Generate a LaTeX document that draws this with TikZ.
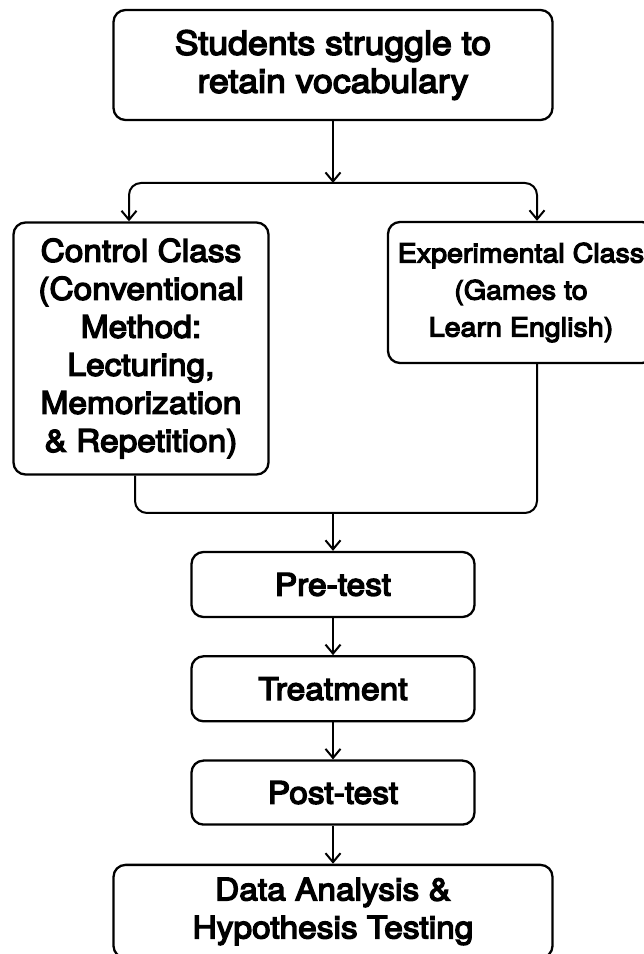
\documentclass[tikz,border=0pt]{standalone}
\usepackage{fontspec}
\newfontfamily\boxfont{TeX Gyre Heros}[FakeBold=4.5, FakeStretch=1.08]
\usetikzlibrary{arrows.meta, positioning}
\tikzset{
    x=1pt, y=1pt,
    >={Straight Barb[length=9pt,width=15pt]},
    % Shapes
    box/.style={rectangle, draw, line width=2.3pt, rounded corners=12pt,
                align=center, font=\boxfont\fontsize{31}{38}\selectfont},
    smallbox/.style={box, font=\boxfont\fontsize{26.5}{37}\selectfont},
    % Flow
    flow/.style={->, line width=2pt},
    link/.style={line width=2pt, rounded corners=12pt}
}
\begin{document}
\begin{tikzpicture}
\useasboundingbox (0,0) rectangle (644,954);
\clip (0,0) rectangle (644,954);

\node[box, font=\boxfont\fontsize{33}{38}\selectfont, minimum width=439pt, minimum height=110pt] (problem) at (333,889) {Students struggle to\\retain vocabulary};
\node[box, minimum width=255pt, minimum height=252pt] (control) at (141,605.5) {Control Class\\(Conventional\\Method:\\Lecturing,\\Memorization\\\& Repetition)};
\node[smallbox, minimum width=266pt, minimum height=141pt] (experimental) at (521,661.5) {Experimental Class\\(Games to\\Learn English)};

\node[box, minimum width=283pt, minimum height=65pt] (pretest) at (333,369.5) {Pre-test};
\node[box, minimum width=283pt, minimum height=65pt, below=37pt of pretest] (treatment) {Treatment};
\node[box, minimum width=283pt, minimum height=64pt, below=37pt of treatment] (posttest) {Post-test};
\node[box, minimum width=439pt, minimum height=93pt, below=38pt of posttest] (analysis) {Data Analysis \&\\Hypothesis Testing};

% split into the two classes
\coordinate (split) at (333,771);
\draw[flow] (problem) -- (split);
\draw[flow, link] (split) -| ([xshift=-12pt]control.north);
\draw[flow, link] (split) -| ([xshift=16pt]experimental.north);

% join again
\coordinate (merge) at (333,441);
\draw[link] ([xshift=-6pt]control.south) |- (merge) -| ([xshift=16pt]experimental.south);
\draw[flow] (merge) -- (pretest);

\draw[flow] (pretest) -- (treatment);
\draw[flow] (treatment) -- (posttest);
\draw[flow] (posttest) -- (analysis);

\end{tikzpicture}
\end{document}
